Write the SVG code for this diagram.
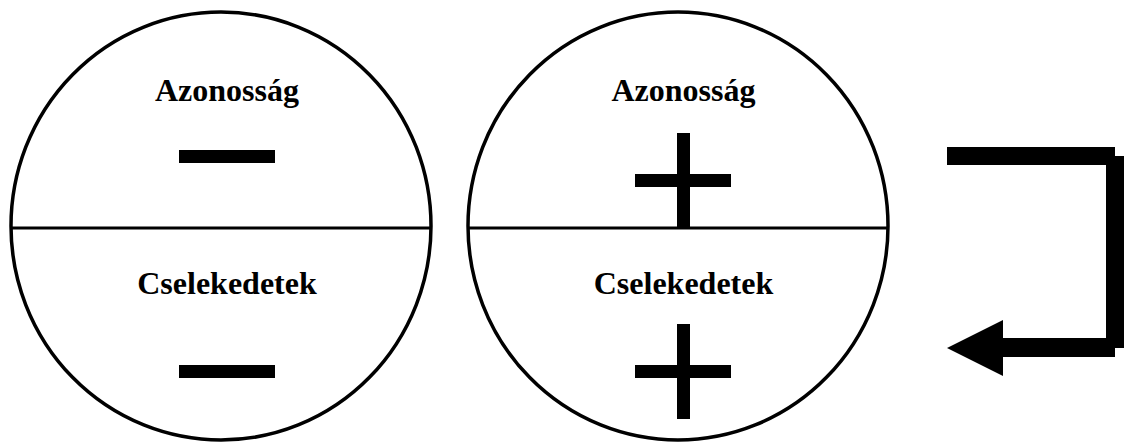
<svg xmlns="http://www.w3.org/2000/svg" width="1131" height="444" viewBox="0 0 1131 444">
<style>
.c{fill:none;stroke:#000;stroke-width:3.5}
.d{stroke:#000;stroke-width:3}
.t{font-family:'Liberation Serif',Tinos,'Times New Roman','DejaVu Serif',serif;font-weight:700;font-size:32px;text-anchor:middle;fill:#000}
.b{fill:#000}
</style>
<rect width="1131" height="444" fill="#fff"/>
<g id="left-circle">
<ellipse class="c" cx="221" cy="226" rx="210" ry="214"/>
<line class="d" x1="11" y1="228" x2="431" y2="228"/>
<text class="t" x="227" y="101">Azonosság</text>
<rect class="b" x="179" y="150" width="96" height="13"/>
<text class="t" x="227" y="294">Cselekedetek</text>
<rect class="b" x="179" y="365" width="96" height="13"/>
</g>
<g id="right-circle">
<ellipse class="c" cx="678" cy="226" rx="210" ry="214"/>
<line class="d" x1="468" y1="228" x2="888" y2="228"/>
<text class="t" x="683.5" y="101">Azonosság</text>
<rect class="b" x="635" y="174" width="96" height="13"/>
<rect class="b" x="677" y="133" width="13" height="95"/>
<text class="t" x="683.5" y="294">Cselekedetek</text>
<rect class="b" x="635" y="365" width="96" height="13"/>
<rect class="b" x="677" y="324" width="13" height="95"/>
</g>
<g id="connectors">
<rect class="b" x="947" y="147" width="168" height="18"/>
<rect class="b" x="1106" y="156" width="18" height="192"/>
<rect class="b" x="1003" y="338" width="112" height="19"/>
<polygon class="b" points="947,348 1003,320 1003,376"/>
</g>
</svg>
